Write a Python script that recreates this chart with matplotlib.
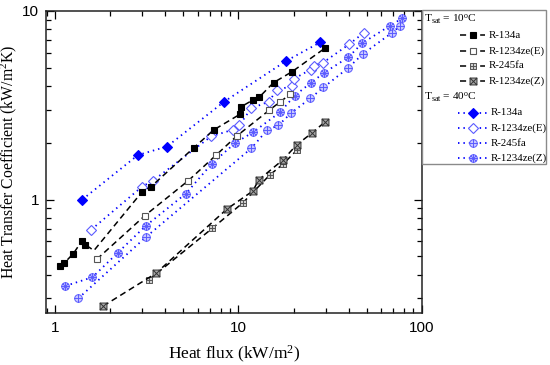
import numpy as np
import matplotlib
matplotlib.use("Agg")
import matplotlib.pyplot as plt
from matplotlib.path import Path
from matplotlib.lines import Line2D
from matplotlib.patches import Rectangle
from matplotlib.ticker import LogLocator, NullFormatter, FixedLocator, FixedFormatter

# ---- data: Tsat = 10 C ----
q_134a_10 = [1.06, 1.12, 1.26, 1.40, 1.46, 1.63, 2.99, 3.34, 5.71, 7.34, 10.25, 10.38, 12.0, 12.96, 15.56, 19.6, 29.6]
h_134a_10 = [0.444, 0.459, 0.517, 0.602, 0.577, 0.536, 1.10, 1.17, 1.88, 2.34, 2.84, 3.11, 3.37, 3.48, 4.17, 4.76, 6.34]

q_ze_e_10 = [1.69, 3.09, 5.34, 7.56, 9.79, 14.69, 16.93, 19.19]
h_ze_e_10 = [0.482, 0.821, 1.26, 1.72, 2.17, 2.97, 3.30, 3.62]

q_245fa_10 = [3.26, 7.19, 10.6, 14.84, 17.52, 20.87]
h_245fa_10 = [0.376, 0.702, 0.962, 1.35, 1.54, 1.83]

q_ze_z_10 = [1.83, 3.55, 8.66, 12.0, 12.9, 17.58, 20.8, 25.3, 29.8]
h_ze_z_10 = [0.272, 0.406, 0.890, 1.11, 1.27, 1.63, 1.95, 2.26, 2.59]

# ---- data: Tsat = 40 C ----
q_134a_40 = [1.41, 2.83, 4.08, 8.39, 18.2, 27.95]
h_134a_40 = [1.00, 1.72, 1.91, 3.31, 5.43, 6.82]

q_ze_e_40 = [1.58, 2.99, 3.43, 7.09, 9.39, 10.13, 11.77, 14.62, 16.24, 19.6, 20.0, 24.8, 25.7, 28.8, 40.2, 48.5]
h_ze_e_40 = [0.693, 1.172, 1.26, 2.16, 2.35, 2.48, 3.05, 3.30, 3.81, 4.00, 4.36, 4.89, 5.13, 5.30, 6.66, 7.69]

q_245fa_40 = [1.34, 3.12, 11.77, 14.38, 16.51, 19.43, 24.66, 29.13, 39.5, 47.9, 68.5, 76.6]
h_245fa_40 = [0.299, 0.630, 1.87, 2.34, 2.47, 2.88, 3.44, 3.93, 4.97, 5.93, 7.64, 8.36]

q_ze_z_40 = [1.14, 1.60, 2.20, 3.12, 5.18, 7.17, 9.57, 12.07, 16.93, 20.3, 24.8, 29.4, 39.8, 47.3, 67.2, 78.1]
h_ze_z_40 = [0.348, 0.387, 0.522, 0.724, 1.076, 1.55, 1.99, 2.28, 2.91, 3.56, 4.15, 4.71, 5.68, 6.74, 8.36, 9.13]

labels = ["R-134a", "R-1234ze(E)", "R-245fa", "R-1234ze(Z)"]
x_ticks = [1, 10, 100]
x_ticklabels = ["1", "10", "100"]
y_ticks = [1, 10]
y_ticklabels = ["1", "10"]

# ---- custom markers ----
def circ_path(extra):
    t = np.linspace(0, 2 * np.pi, 40)
    verts = [(np.cos(a), np.sin(a)) for a in t]
    codes = [Path.MOVETO] + [Path.LINETO] * (len(t) - 1)
    for (x0, y0, x1, y1) in extra:
        verts += [(x0, y0), (x1, y1)]
        codes += [Path.MOVETO, Path.LINETO]
    return Path(verts, codes)

def sq_path(extra):
    verts = [(-1, -1), (1, -1), (1, 1), (-1, 1), (-1, -1)]
    codes = [Path.MOVETO, Path.LINETO, Path.LINETO, Path.LINETO, Path.CLOSEPOLY]
    for (x0, y0, x1, y1) in extra:
        verts += [(x0, y0), (x1, y1)]
        codes += [Path.MOVETO, Path.LINETO]
    return Path(verts, codes)

d = 0.7071
m_oplus = circ_path([(-1, 0, 1, 0), (0, -1, 0, 1)])
m_ostar = circ_path([(-1, 0, 1, 0), (0, -1, 0, 1), (-d, -d, d, d), (-d, d, d, -d)])
m_sqplus = sq_path([(-1, 0, 1, 0), (0, -1, 0, 1)])
m_sqx = sq_path([(-1, -1, 1, 1), (-1, 1, 1, -1)])

blue = "#0000ff"
lblue = "#5b5bff"
black = "#000000"

dash = (0, (4.0, 2.6))
dot = (0, (0.8, 2.2))

styles_10 = [
    dict(color=black, ls=dash, marker="s", ms=5, mfc=black, mec=black, mew=0.8),
    dict(color=black, ls=dash, marker="s", ms=5, mfc="white", mec="#555555", mew=0.8),
    dict(color=black, ls=dash, marker=m_sqplus, ms=5, mfc="#cfcfcf", mec="#555555", mew=0.7),
    dict(color=black, ls=dash, marker=m_sqx, ms=5, mfc="#a8a8a8", mec="#333333", mew=0.7),
]
styles_40 = [
    dict(color=blue, ls=dot, marker="D", ms=5, mfc=blue, mec=blue, mew=0.8),
    dict(color=blue, ls=dot, marker="D", ms=5.5, mfc="white", mec=lblue, mew=0.8),
    dict(color=blue, ls=dot, marker=m_oplus, ms=5.5, mfc="#c8c8ff", mec=lblue, mew=0.7),
    dict(color=blue, ls=dot, marker=m_ostar, ms=5.5, mfc="#c8c8ff", mec=lblue, mew=0.7),
]

W, H = 550, 365
fig = plt.figure(figsize=(5.5, 3.65), dpi=100)
ax = fig.add_axes([46 / W, 1 - 313 / H, (421.7 - 46) / W, (313 - 11) / H])

data_10 = [(q_134a_10, h_134a_10), (q_ze_e_10, h_ze_e_10), (q_245fa_10, h_245fa_10), (q_ze_z_10, h_ze_z_10)]
data_40 = [(q_134a_40, h_134a_40), (q_ze_e_40, h_ze_e_40), (q_245fa_40, h_245fa_40), (q_ze_z_40, h_ze_z_40)]

for i, ((q, h), st) in enumerate(zip(data_40, styles_40)):
    ax.plot(q, h, lw=1.3, zorder=2, **st)
for i, ((q, h), st) in enumerate(zip(data_10, styles_10)):
    kw = dict(st)
    if i == 0:
        kw["markevery"] = [k for k in range(len(q)) if k != 5]
    ax.plot(q, h, lw=1.1, zorder=3, **kw)

ax.set_xscale("log")
ax.set_yscale("log")
ax.set_xlim(0.893, 100)
ax.set_ylim(0.25, 10)

ax.xaxis.set_major_locator(FixedLocator(x_ticks))
ax.xaxis.set_major_formatter(FixedFormatter(x_ticklabels))
ax.yaxis.set_major_locator(FixedLocator(y_ticks))
ax.yaxis.set_major_formatter(FixedFormatter(y_ticklabels))
ax.xaxis.set_minor_locator(LogLocator(base=10, subs=np.arange(2, 10)))
ax.yaxis.set_minor_locator(LogLocator(base=10, subs=np.arange(2, 10)))
ax.xaxis.set_minor_formatter(NullFormatter())
ax.yaxis.set_minor_formatter(NullFormatter())
ax.tick_params(which="both", direction="in", top=True, right=True, width=0.9)
ax.tick_params(which="major", length=6)
ax.tick_params(which="minor", length=3.5)
for t in ax.get_xticklabels() + ax.get_yticklabels():
    t.set_fontfamily("Liberation Sans")
    t.set_fontsize(11)
ax.tick_params(axis="x", pad=6)
ax.tick_params(axis="y", pad=5)
for s in ax.spines.values():
    s.set_linewidth(1.1)
    s.set_color("#222222")

ax.set_xlabel("Heat flux (kW/m$\\mathregular{^2}$)", fontfamily="Liberation Serif", fontsize=12.5, labelpad=6)
ax.set_ylabel("Heat Transfer Coefficient (kW/m$\\mathregular{^2}$K)", fontfamily="Liberation Serif", fontsize=11.3)
ax.yaxis.set_label_coords((19 - 46) / 375.7, 0.5)

# ---- legend box (figure coords) ----
def fx(px):
    return px / W

def fy(py):
    return 1 - py / H

fig.add_artist(Rectangle((fx(422), fy(164)), fx(545.7) - fx(422), fy(10) - fy(164),
                         transform=fig.transFigure, fill=False, ec="#8a8a8a", lw=1.0))
serif = "Liberation Serif"
lfs = 7.8
fig.text(fx(424), fy(19), "T$\\mathregular{_{sat}}$ = 10$\\mathregular{^o}$C", fontfamily=serif, fontsize=lfs + 0.4,
         va="center", ha="left")
fig.text(fx(424), fy(97), "T$\\mathregular{_{sat}}$ = 40$\\mathregular{^o}$C", fontfamily=serif, fontsize=lfs + 0.4,
         va="center", ha="left")
rows10 = [35, 51, 66, 81]
rows40 = [113, 128, 143, 158]
for lab, st, py in zip(labels, styles_10, rows10):
    ln = Line2D([fx(460), fx(485)], [fy(py), fy(py)], transform=fig.transFigure, lw=1.1,
                markevery=[], **st)
    fig.add_artist(ln)
    mk = Line2D([fx(472.5)], [fy(py)], transform=fig.transFigure, ls="none",
                **{k: v for k, v in st.items() if k not in ("ls", "color")})
    fig.add_artist(mk)
    fig.text(fx(489), fy(py), lab, fontfamily=serif, fontsize=lfs, va="center", ha="left")
for lab, st, py in zip(labels, styles_40, rows40):
    ln = Line2D([fx(458), fx(487)], [fy(py), fy(py)], transform=fig.transFigure, lw=1.3,
                markevery=[], **st)
    fig.add_artist(ln)
    mk = Line2D([fx(472.5)], [fy(py)], transform=fig.transFigure, ls="none",
                **{k: v for k, v in st.items() if k not in ("ls", "color")})
    fig.add_artist(mk)
    fig.text(fx(491), fy(py), lab, fontfamily=serif, fontsize=lfs, va="center", ha="left")

fig.savefig("out.png", dpi=100)
